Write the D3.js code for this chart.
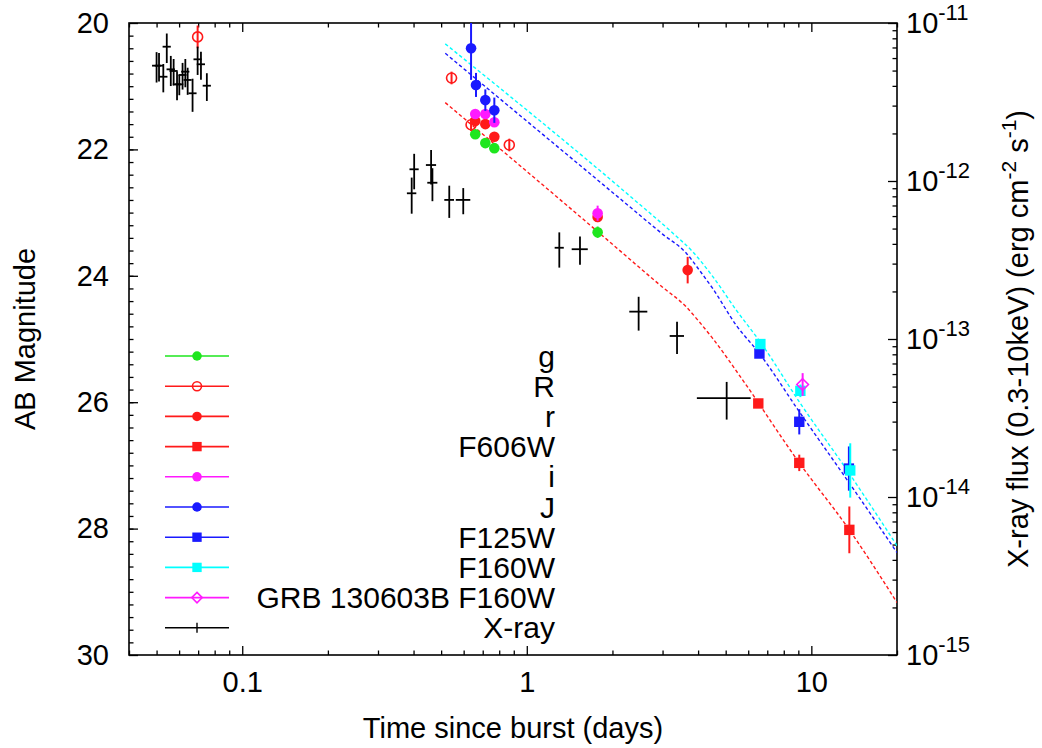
<!DOCTYPE html>
<html>
<head>
<meta charset="utf-8">
<script src="https://cdn.jsdelivr.net/npm/d3@7"></script>
<style>
  body { margin: 0; background: #fff; }
  svg text { font-family: "Liberation Sans", Arial, sans-serif; fill: #000; }
</style>
</head>
<body>
<div id="vis"></div>
<script>
// optical / IR photometry: time (days), AB mag, mag error
const gT = [0.659, 0.715, 0.769, 1.774];
const gMag = [21.76, 21.90, 21.98, 23.31];
const gErr = [0.05, 0.05, 0.05, 0.09];

const RT = [0.0697, 0.544, 0.637, 0.868];
const RMag = [20.22, 20.87, 21.61, 21.93];
const RErr = [0.18, 0.1, 0.1, 0.1];

const rT = [0.659, 0.715, 0.769, 1.774, 3.676];
const rMag = [21.55, 21.60, 21.80, 23.07, 23.91];
const rErr = [0.05, 0.05, 0.05, 0.08, 0.21];

const f606T = [6.51, 9.07, 13.6];
const f606Mag = [26.02, 26.96, 28.02];
const f606Err = [0.05, 0.13, 0.37];

const iT = [0.659, 0.715, 0.769, 1.774];
const iMag = [21.44, 21.44, 21.57, 23.01];
const iErr = [0.05, 0.05, 0.05, 0.12];

const JT = [0.637, 0.663, 0.715, 0.769];
const JMag = [20.40, 20.98, 21.22, 21.38];
const JErr = [0.5, 0.19, 0.17, 0.2];

const f125T = [6.57, 9.07, 13.55];
const f125Mag = [25.23, 26.31, 27.05];
const f125Err = [0.05, 0.2, 0.35];

const f160T = [6.62, 9.15, 13.7];
const f160Mag = [25.08, 25.82, 27.08];
const f160Err = [0.05, 0.1, 0.43];

const grbT = [9.32];
const grbMag = [25.72];
const grbErr = [0.18];

// X-ray: time, time error (days), flux, flux error (erg cm^-2 s^-1)
const xrT = [0.0500, 0.0510, 0.0528, 0.0543, 0.0561, 0.0574, 0.0590, 0.0601, 0.0617, 0.0631, 0.0643, 0.0669, 0.0697, 0.0716, 0.0751,
  0.394, 0.402, 0.461, 0.466, 0.534, 0.598, 1.301, 1.538, 2.472, 3.373, 5.04];
const xrTErr = [0.0018, 0.0017, 0.0018, 0.0018, 0.0019, 0.0019, 0.002, 0.002, 0.002, 0.0021, 0.0021, 0.0022, 0.0023, 0.0024, 0.0025,
  0.015, 0.015, 0.019, 0.019, 0.021, 0.035, 0.048, 0.10, 0.18, 0.195, 1.08];
const xrFlux = [5.37e-12, 5.37e-12, 4.57e-12, 7.08e-12, 5.09e-12, 4.97e-12, 4.09e-12, 4.09e-12, 4.69e-12, 4.92e-12, 4.36e-12, 3.59e-12, 5.89e-12, 5.48e-12, 4.01e-12,
  8.36e-13, 1.186e-12, 1.262e-12, 9.75e-13, 7.59e-13, 7.59e-13, 3.78e-13, 3.70e-13, 1.49e-13, 1.045e-13, 4.22e-14];
const xrFErr = [1.17e-12, 1.1e-12, 0.93e-12, 1.5e-12, 1.1e-12, 0.95e-12, 0.85e-12, 0.6e-12, 0.9e-12, 1.0e-12, 0.85e-12, 0.85e-12, 1.2e-12, 1.1e-12, 0.8e-12,
  2.15e-13, 3.0e-13, 3.1e-13, 2.3e-13, 1.75e-13, 1.43e-13, 0.95e-13, 0.75e-13, 0.36e-13, 0.24e-13, 1.13e-14];

// dashed model curves (time, AB mag)
const modRedT = [0.517, 1.774, 3.00, 3.63, 4.04, 4.50, 5.74, 9.07, 13.6, 20];
const modRedMag = [21.26, 23.30, 24.18, 24.49, 24.73, 24.99, 25.65, 26.96, 28.02, 29.17];
const modBlueT = [0.517, 2.14, 3.00, 3.63, 4.04, 4.50, 5.44, 6.57, 9.07, 13.6, 20];
const modBlueMag = [20.48, 22.79, 23.34, 23.64, 23.91, 24.20, 24.78, 25.23, 26.15, 27.28, 28.38];
const modCyanT = [0.517, 2.39, 3.25, 3.83, 4.50, 5.44, 6.62, 9.15, 13.7, 20];
const modCyanMag = [20.33, 22.80, 23.32, 23.62, 24.01, 24.54, 25.05, 26.02, 27.15, 28.27];

const legendNames = ["g", "R", "r", "F606W", "i", "J", "F125W", "F160W", "GRB 130603B F160W", "X-ray"];
const magTicks = [20, 22, 24, 26, 28, 30];
const timeTicks = [0.1, 1, 10];
const fluxTicks = [1e-11, 1e-12, 1e-13, 1e-14, 1e-15];

const GREEN = "#1ee61e", RED = "#ff1a1a", MAG = "#ff1aff", BLUE = "#1a1aff", CYAN = "#00ffff";

const series = [
  { name: "g", color: GREEN, shape: "circle", t: gT, m: gMag, e: gErr },
  { name: "R", color: RED, shape: "ocircle", t: RT, m: RMag, e: RErr },
  { name: "r", color: RED, shape: "circle", t: rT, m: rMag, e: rErr },
  { name: "F606W", color: RED, shape: "square", t: f606T, m: f606Mag, e: f606Err },
  { name: "i", color: MAG, shape: "circle", t: iT, m: iMag, e: iErr },
  { name: "J", color: BLUE, shape: "circle", t: JT, m: JMag, e: JErr },
  { name: "F125W", color: BLUE, shape: "square", t: f125T, m: f125Mag, e: f125Err },
  { name: "F160W", color: CYAN, shape: "square", t: f160T, m: f160Mag, e: f160Err },
  { name: "GRB 130603B F160W", color: MAG, shape: "diamond", t: grbT, m: grbMag, e: grbErr }
];

const models = [
  { color: RED, t: modRedT, m: modRedMag },
  { color: BLUE, t: modBlueT, m: modBlueMag },
  { color: CYAN, t: modCyanT, m: modCyanMag }
];

const W = 1042, H = 748;
const L = 129, R = 897, T = 23, B = 655;

const x = d3.scaleLog().domain([0.04, 20]).range([L, R]);
const y = d3.scaleLinear().domain([20, 30]).range([T, B]);
const y2 = d3.scaleLog().domain([1e-11, 1e-15]).range([T, B]);

const svg = d3.select("#vis").append("svg")
  .attr("width", W).attr("height", H);

svg.append("defs").append("clipPath").attr("id", "clip")
  .append("rect").attr("x", L).attr("y", T).attr("width", R - L).attr("height", B - T);

// ---- axes ----
const xMinor = x.ticks().filter(v => !timeTicks.some(t => Math.abs(t - v) < 1e-9));
const magMinor = d3.range(20.2, 30, 0.2);

function noDomain(g) { g.select(".domain").remove(); g.selectAll("line").attr("stroke", "#000").attr("stroke-width", 1.3); }

svg.append("g").attr("transform", `translate(0,${B})`)
  .call(d3.axisBottom(x).tickValues(xMinor).tickSize(-4.5).tickFormat(""))
  .call(noDomain);
svg.append("g").attr("transform", `translate(0,${B})`)
  .call(d3.axisBottom(x).tickValues(timeTicks).tickSize(-9).tickPadding(16).tickFormat(d3.format("~g")))
  .call(noDomain)
  .selectAll("text").attr("font-size", 29).attr("dy", "0.71em");
svg.append("g").attr("transform", `translate(0,${T})`)
  .call(d3.axisTop(x).tickValues(xMinor).tickSize(-4.5).tickFormat(""))
  .call(noDomain);
svg.append("g").attr("transform", `translate(0,${T})`)
  .call(d3.axisTop(x).tickValues(timeTicks).tickSize(-9).tickFormat(""))
  .call(noDomain);

svg.append("g").attr("transform", `translate(${L},0)`)
  .call(d3.axisLeft(y).tickValues(magMinor).tickSize(-4.5).tickFormat(""))
  .call(noDomain);
svg.append("g").attr("transform", `translate(${L},0)`)
  .call(d3.axisLeft(y).tickValues(magTicks).tickSize(-9).tickPadding(20).tickFormat(d3.format("d")))
  .call(noDomain)
  .selectAll("text").attr("font-size", 29);

const fluxMinor = y2.ticks().filter(v => !fluxTicks.some(f => Math.abs(Math.log10(f) - Math.log10(v)) < 1e-6));
svg.append("g").attr("transform", `translate(${R},0)`)
  .call(d3.axisRight(y2).tickValues(fluxMinor).tickSize(-4.5).tickFormat(""))
  .call(noDomain);
svg.append("g").attr("transform", `translate(${R},0)`)
  .call(d3.axisRight(y2).tickValues(fluxTicks).tickSize(-9).tickFormat(""))
  .call(noDomain);

// right-axis labels with exponents
fluxTicks.forEach(f => {
  const t = svg.append("text").attr("x", R + 9).attr("y", y2(f) + 10).attr("font-size", 29);
  t.append("tspan").text("10");
  t.append("tspan").attr("dy", -13).attr("font-size", 22).text(String(Math.round(Math.log10(f))));
});

svg.append("rect").attr("x", L).attr("y", T).attr("width", R - L).attr("height", B - T)
  .attr("fill", "none").attr("stroke", "#000").attr("stroke-width", 1.6);

// axis titles
svg.append("text").attr("x", (L + R) / 2).attr("y", 738).attr("text-anchor", "middle")
  .attr("font-size", 29).text("Time since burst (days)");
svg.append("text").attr("transform", `translate(35,${(T + B) / 2}) rotate(-90)`)
  .attr("text-anchor", "middle").attr("font-size", 29).text("AB Magnitude");
const rt = svg.append("text").attr("transform", `translate(1028,${(T + B) / 2}) rotate(-90)`)
  .attr("text-anchor", "middle").attr("font-size", 29);
rt.append("tspan").text("X-ray flux (0.3-10keV) (erg cm");
rt.append("tspan").attr("dy", -12).attr("font-size", 21).text("-2");
rt.append("tspan").attr("dy", 12).text(" s");
rt.append("tspan").attr("dy", -12).attr("font-size", 21).text("-1");
rt.append("tspan").attr("dy", 12).text(")");

// ---- plot content ----
const plot = svg.append("g").attr("clip-path", "url(#clip)");

const line = d3.line().x(d => x(d[0])).y(d => y(d[1])).curve(d3.curveMonotoneX);
models.forEach(md => {
  plot.append("path")
    .attr("d", line(md.t.map((t, i) => [t, md.m[i]])))
    .attr("fill", "none").attr("stroke", md.color).attr("stroke-width", 1.4)
    .attr("stroke-dasharray", "3.5,2.5");
});

function marker(g, shape, color, cx, cy, s) {
  if (shape === "circle") {
    g.append("circle").attr("cx", cx).attr("cy", cy).attr("r", 5.3 * s).attr("fill", color);
  } else if (shape === "ocircle") {
    g.append("circle").attr("cx", cx).attr("cy", cy).attr("r", 5 * s)
      .attr("fill", "none").attr("stroke", color).attr("stroke-width", 1.6);
  } else if (shape === "square") {
    g.append("rect").attr("x", cx - 5.2 * s).attr("y", cy - 5.2 * s)
      .attr("width", 10.4 * s).attr("height", 10.4 * s).attr("fill", color);
  } else if (shape === "diamond") {
    const d = 5.8 * s;
    g.append("path").attr("d", `M${cx},${cy - d}L${cx + d},${cy}L${cx},${cy + d}L${cx - d},${cy}Z`)
      .attr("fill", "none").attr("stroke", color).attr("stroke-width", 1.6);
  }
}

series.forEach(sr => {
  const g = plot.append("g");
  sr.t.forEach((t, i) => {
    g.append("line")
      .attr("x1", x(t)).attr("x2", x(t))
      .attr("y1", y(sr.m[i] - sr.e[i])).attr("y2", y(sr.m[i] + sr.e[i]))
      .attr("stroke", sr.color).attr("stroke-width", 2);
    marker(g, sr.shape, sr.color, x(t), y(sr.m[i]), 1);
  });
});

// X-ray crosses
const xg = plot.append("g").attr("stroke", "#000").attr("stroke-width", 1.8);
xrT.forEach((t, i) => {
  const f = xrFlux[i];
  xg.append("line").attr("x1", x(t - xrTErr[i])).attr("x2", x(t + xrTErr[i]))
    .attr("y1", y2(f)).attr("y2", y2(f));
  xg.append("line").attr("x1", x(t)).attr("x2", x(t))
    .attr("y1", y2(f + xrFErr[i])).attr("y2", y2(f - xrFErr[i]));
});

// ---- legend ----
const lg = svg.append("g");
const legendStyles = series.map(s => ({ color: s.color, shape: s.shape }))
  .concat([{ color: "#000", shape: "plus" }]);
legendNames.forEach((name, i) => {
  const ly = 356 + i * 30.2;
  const st = legendStyles[i];
  lg.append("line").attr("x1", 165).attr("x2", 229).attr("y1", ly).attr("y2", ly)
    .attr("stroke", st.color).attr("stroke-width", 1.6);
  if (st.shape === "plus") {
    lg.append("line").attr("x1", 197).attr("x2", 197).attr("y1", ly - 5).attr("y2", ly + 5)
      .attr("stroke", "#000").attr("stroke-width", 1.4);
  } else {
    marker(lg, st.shape, st.color, 197, ly, 0.9);
  }
  lg.append("text").attr("x", 555).attr("y", ly + 10.5).attr("text-anchor", "end")
    .attr("font-size", 30).text(name);
});
</script>
</body>
</html>
